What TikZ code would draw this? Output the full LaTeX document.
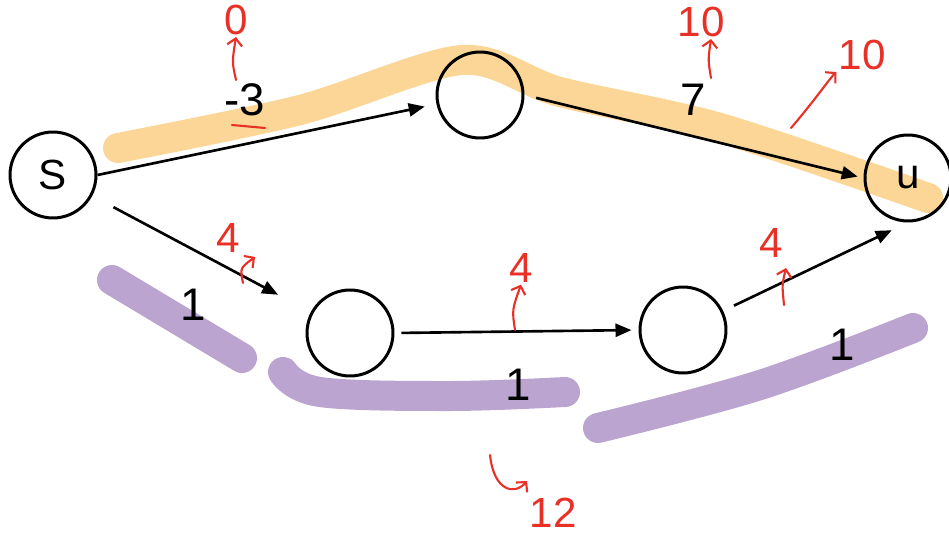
\documentclass[tikz,border=0pt]{standalone}
\usepackage{fontspec}
\setmainfont{Liberation Sans}
\usetikzlibrary{arrows.meta, positioning}
\definecolor{hlorange}{RGB}{251,214,150}
\definecolor{hlpurple}{RGB}{187,165,208}
\definecolor{pen}{RGB}{232,48,38}

\begin{document}
\begin{tikzpicture}[
  x=0.02cm, y=-0.02cm,
  vertex/.style={circle, draw=black, line width=1.7pt, minimum size=1.72cm,
                 inner sep=0pt, font=\fontsize{24}{28}\selectfont},
  arrow/.style={-{Triangle[length=0.32cm, width=0.26cm]}, line width=1.5pt},
  hl/.style={line width=0.6cm, line cap=round, line join=round},
  weight/.style={font=\fontsize{26}{30}\selectfont, inner sep=1pt},
  note/.style={text=pen, font=\fontsize{24}{28}\selectfont, inner sep=1pt},
  penmark/.style={draw=pen, line width=1.2pt, line cap=round,
                  -{Straight Barb[length=0.14cm, width=0.3cm]}}
]
\useasboundingbox (0,0) rectangle (949,534);

% highlighted paths
\draw[hl, hlorange] plot[smooth, tension=0.5] coordinates
  {(118,148) (300,110) (462,60) (560,92) (720,128) (928,198)};
\draw[hl, hlpurple] (112,280) -- (242,358);
\draw[hl, hlpurple] plot[smooth, tension=0.6] coordinates
  {(283,372) (320,392) (450,396) (565,392)};
\draw[hl, hlpurple] plot[smooth, tension=0.6] coordinates
  {(598,428) (760,385) (913,328)};

% vertices
\node[vertex] (s) at (53,175) {S};
\node[vertex] (top) at (480,95) {};
\node[vertex] (u) at (908,178) {u};
\node[vertex] (b1) at (350,333) {};
\node[vertex] (b2) at (683,330) {};

% edges
\draw[arrow, shorten >=0.24cm] (s.east) -- (top);
\draw[arrow, shorten <=0.24cm, shorten >=0.12cm] (top.east) -- (u.west);
\draw[arrow, shorten <=0.48cm, shorten >=0.74cm] (s) -- (b1);
\draw[arrow, shorten <=0.14cm, shorten >=0.14cm] (b1.east) -- (b2.west);
\draw[arrow, shorten <=0.24cm, shorten >=0.36cm] (b2) -- (u.south);

% weights
\node[weight] (w1) at (245,100) {-3};
\node[weight] (w2) at (693,100) {7};
\node[weight] (w3) at (193,305) {1};
\node[weight] (w4) at (518,385) {1};
\node[weight] (w5) at (842,345) {1};

% red notes
\node[note] (n0) at (236,20) {0};
\node[note] (n1) at (701,22) {10};
\node[note] (n2) at (862,55) {10};
\node[note] (n3) at (228,238) {4};
\node[note] (n4) at (521,268) {4};
\node[note] (n5) at (771,243) {4};
\node[note] (n6) at (553,513) {12};

\coordinate (p0) at (236,80);
\coordinate (p1) at (711,78);
\coordinate (p2) at (791,128);
\coordinate (p3) at (243,283);
\coordinate (p4) at (515,330);
\coordinate (p5) at (784,305);
\coordinate (p6) at (490,455);

\draw[penmark] (p0) .. controls (232,62) .. (n0.south);
\draw[penmark] (p1) .. controls (708,60) .. (n1.south -| p1);
\draw[penmark] (p2) .. controls (815,100) and (830,78) .. (n2.south west);
\draw[penmark] (p3) .. controls (240,268) .. (255,257);
\draw[penmark] (p4) .. controls (512,310) .. (n4.south);
\draw[penmark] (p5) .. controls (782,285) .. (786,268);
\draw[penmark] (p6) .. controls (494,492) and (515,495) .. (527,481);
\draw[pen, line width=1.2pt, line cap=round] (232,125) -- (265,128);

\end{tikzpicture}
\end{document}
